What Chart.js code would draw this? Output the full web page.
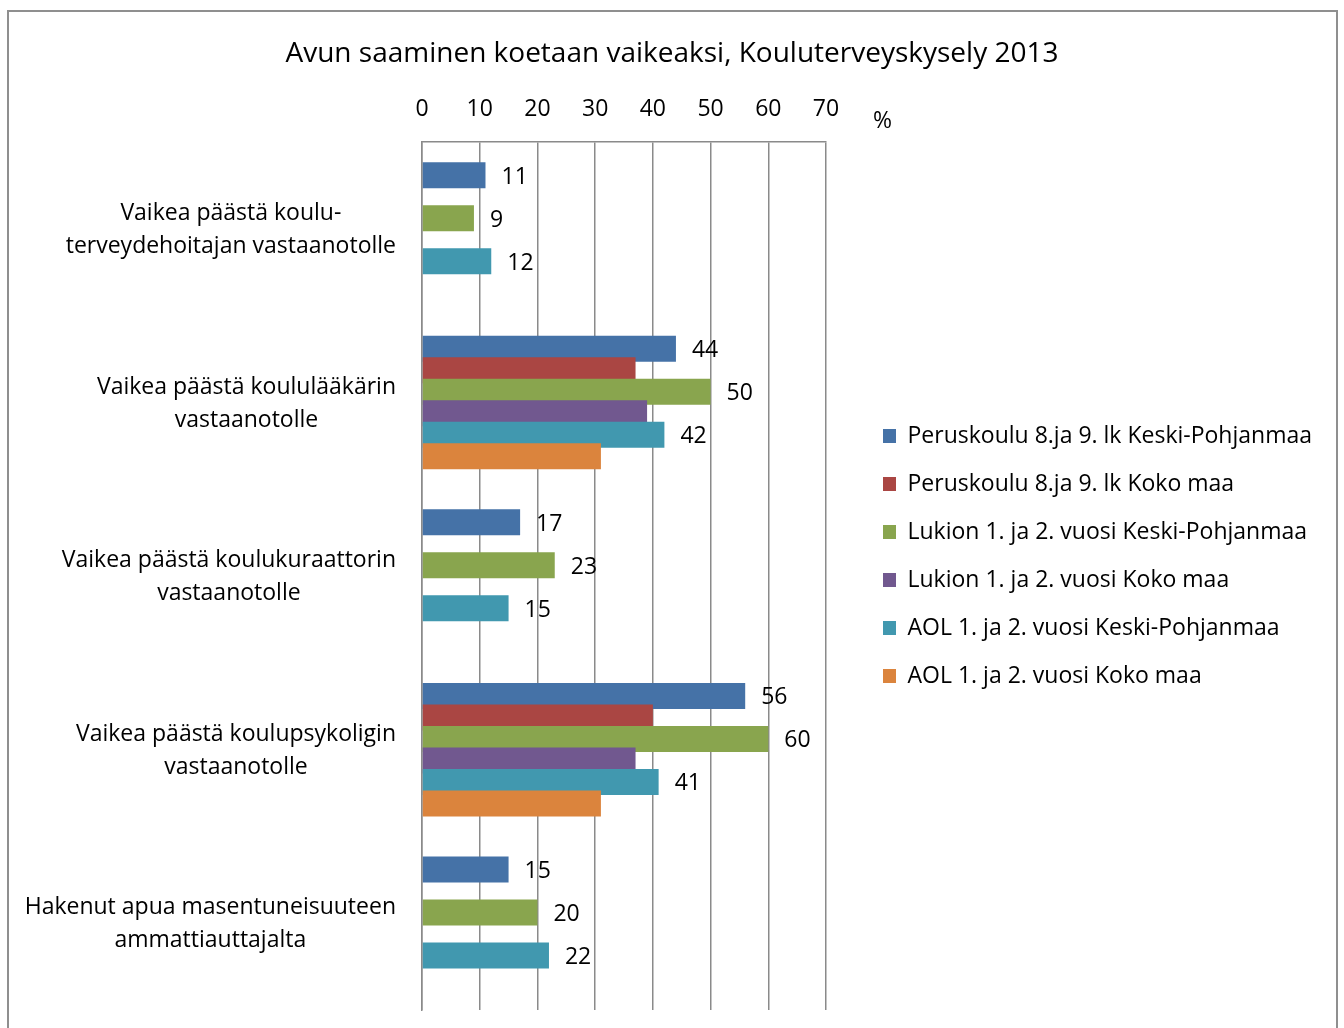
<!DOCTYPE html>
<html>
<head>
<meta charset="utf-8">
<title>Avun saaminen koetaan vaikeaksi</title>
<script src="https://cdn.jsdelivr.net/npm/chart.js@4.4.1/dist/chart.umd.min.js"></script>
<style>
  html, body { margin: 0; padding: 0; background: #fff; overflow: hidden; }
  .frame { position: absolute; left: 7px; top: 10px; width: 1327px; height: 1100px; border: 2px solid #8f8f8f; }
  #chart { position: absolute; left: 0; top: 0; }
</style>
</head>
<body>
<div class="frame"></div>
<canvas id="chart" width="1344" height="1112"></canvas>
<script>
// rivit (kategoriat), rivitetty kuten alkuperäisessä
const categories = [
  ['Vaikea päästä koulu-', 'terveydehoitajan vastaanotolle'],
  ['Vaikea päästä koululääkärin', 'vastaanotolle'],
  ['Vaikea päästä koulukuraattorin', 'vastaanotolle'],
  ['Vaikea päästä koulupsykoligin', 'vastaanotolle'],
  ['Hakenut apua masentuneisuuteen', 'ammattiauttajalta']
];

const seriesNames = [
  'Peruskoulu 8.ja 9. lk Keski-Pohjanmaa',
  'Peruskoulu 8.ja 9. lk Koko maa',
  'Lukion 1. ja 2. vuosi Keski-Pohjanmaa',
  'Lukion 1. ja 2. vuosi Koko maa',
  'AOL 1. ja 2. vuosi Keski-Pohjanmaa',
  'AOL 1. ja 2. vuosi Koko maa'
];
const seriesColors = ['#4572A7', '#AA4643', '#89A54E', '#71588F', '#4198AF', '#DB843D'];

// arvot, %
const peruskouluKP = [11, 44, 17, 56, 15];
const peruskouluKokoMaa = [null, 37, null, 40, null];
const lukioKP = [9, 50, 23, 60, 20];
const lukioKokoMaa = [null, 39, null, 37, null];
const aolKP = [12, 42, 15, 41, 22];
const aolKokoMaa = [null, 31, null, 31, null];
const seriesValues = [peruskouluKP, peruskouluKokoMaa, lukioKP, lukioKokoMaa, aolKP, aolKokoMaa];

// vain Keski-Pohjanmaan sarjoilla on arvotekstit
const labelledSeries = [0, 2, 4];

const xTicks = [0, 10, 20, 30, 40, 50, 60, 70];

const FONT = 'Open Sans';
const TEXT_SIZE = 23;
const LEGEND_SIZE = 23;
const LEGEND_PAD = 25;
const BOX = 13;

// legendan leveys -> sivupehmuste ja väli, jotta piirtoalue on 422..826
const mctx = document.createElement('canvas').getContext('2d');
mctx.font = LEGEND_SIZE + 'px "' + FONT + '"';
const textW = Math.max(...seriesNames.map(s => mctx.measureText(s).width));
const legendW = LEGEND_PAD + BOX + LEGEND_SIZE / 2 + textW + 10;
const sidePad = Math.max(0, Math.floor(1344 - 858 - legendW));
const gapW = 1344 - sidePad - legendW - 826;

Chart.defaults.font.family = FONT;
Chart.defaults.color = '#000';

// myöhemmät sarjat piirretään päällimmäisiksi (palkit menevät hieman päällekkäin)
const drawOrder = {
  id: 'drawOrder',
  beforeDatasetsDraw(chart) {
    chart.data.datasets.forEach((ds, i) => {
      const meta = chart.getDatasetMeta(i);
      if (!meta.hidden) meta.controller.draw();
    });
    return false;
  }
};

const textLabels = {
  id: 'textLabels',
  afterDraw(chart) {
    const { ctx, chartArea } = chart;
    const yScale = chart.scales.y;
    ctx.save();
    ctx.fillStyle = '#000';
    ctx.font = TEXT_SIZE + 'px "' + FONT + '"';
    ctx.textBaseline = 'middle';

    // kategoriat: rivit keskitetty, lohko oikealle tasattu
    ctx.textAlign = 'center';
    categories.forEach((lines, i) => {
      const yc = yScale.getPixelForValue(i) + 1;
      const w = Math.max(...lines.map(l => ctx.measureText(l).width));
      const xc = chartArea.left - 26 - w / 2;
      lines.forEach((l, j) => {
        ctx.fillText(l, xc, yc + (j - (lines.length - 1) / 2) * 33);
      });
    });

    // arvotekstit
    ctx.textAlign = 'left';
    labelledSeries.forEach(di => {
      chart.getDatasetMeta(di).data.forEach((bar, k) => {
        const v = chart.data.datasets[di].data[k];
        if (v === null) return;
        ctx.fillText(String(v), bar.x + 16, bar.y + 2);
      });
    });

    ctx.fillText('%', chartArea.right + 47, 121);
    ctx.restore();
  }
};

new Chart(document.getElementById('chart'), {
  type: 'bar',
  data: {
    labels: categories,
    datasets: seriesNames.map((name, i) => ({
      label: name,
      data: seriesValues[i],
      backgroundColor: seriesColors[i],
      borderWidth: 0,
      xAxisID: 'x',
      yAxisID: 'y',
      categoryPercentage: 0.743,
      barPercentage: 1.21
    }))
  },
  options: {
    indexAxis: 'y',
    responsive: false,
    animation: false,
    layout: { padding: { left: sidePad, right: sidePad, top: 0, bottom: 0 } },
    scales: {
      x: {
        type: 'linear',
        position: 'top',
        min: 0,
        max: 70,
        afterBuildTicks: scale => { scale.ticks = xTicks.map(v => ({ value: v })); },
        grid: { color: '#8a8a8a', lineWidth: 1.5, drawTicks: false },
        border: { color: '#8a8a8a', width: 1.5 },
        ticks: { font: { size: 23 }, padding: 19, color: '#000' }
      },
      x2: {
        type: 'linear',
        axis: 'x',
        position: 'bottom',
        grid: { display: false },
        border: { display: false },
        ticks: { display: false },
        afterFit: scale => { scale.height = 102; }
      },
      y: {
        type: 'category',
        position: 'left',
        grid: { display: false },
        border: { color: '#8a8a8a', width: 1.5 },
        ticks: { display: false },
        afterFit: scale => { scale.width = 422 - sidePad; }
      },
      y2: {
        type: 'linear',
        axis: 'y',
        position: 'right',
        grid: { display: false },
        border: { display: false },
        ticks: { display: false },
        afterFit: scale => { scale.width = gapW; }
      }
    },
    plugins: {
      title: {
        display: true,
        text: 'Avun saaminen koetaan vaikeaksi, Kouluterveyskysely 2013',
        font: { size: 28, weight: 'normal' },
        color: '#000',
        padding: { top: 37, bottom: 6 }
      },
      legend: {
        position: 'right',
        align: 'center',
        maxWidth: 700,
        labels: {
          boxWidth: BOX,
          boxHeight: 14,
          padding: LEGEND_PAD,
          font: { size: LEGEND_SIZE },
          color: '#000'
        }
      },
      tooltip: { enabled: false }
    }
  },
  plugins: [drawOrder, textLabels]
});
</script>
</body>
</html>
